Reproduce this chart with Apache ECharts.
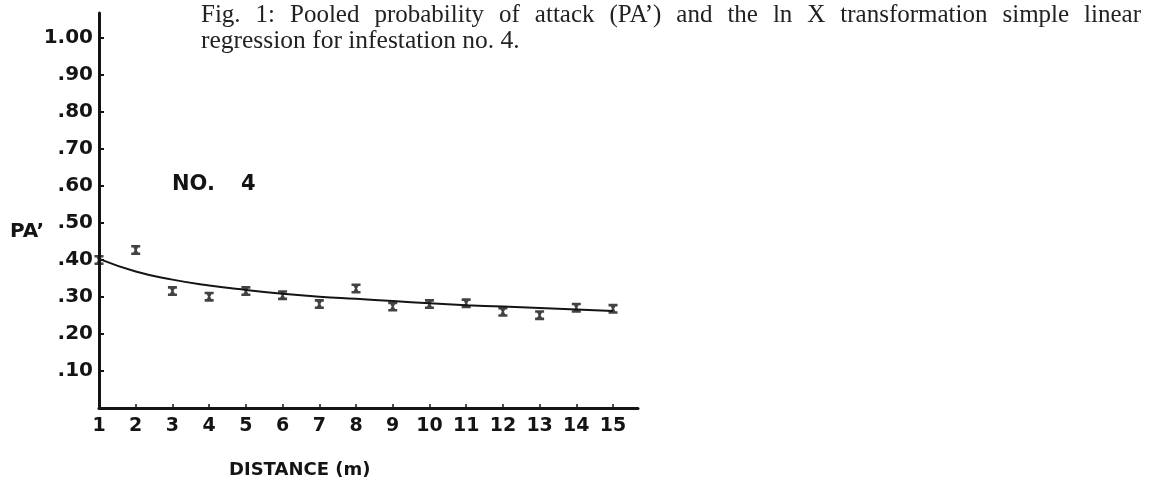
<!DOCTYPE html>
<html><head><meta charset="utf-8">
<script src="https://cdn.jsdelivr.net/npm/echarts@6/dist/echarts.min.js"></script>
<style>html,body{margin:0;padding:0;background:#fff}#c{width:1150px;height:480px}</style>
</head><body><div id="c"></div>
<script>
// ---- data ----
const distances = [1, 2, 3, 4, 5, 6, 7, 8, 9, 10, 11, 12, 13, 14, 15];
const paObserved = [0.400, 0.427, 0.316, 0.301, 0.316, 0.305, 0.281, 0.323, 0.274, 0.281, 0.283, 0.260, 0.251, 0.271, 0.268];
const paRegression = [0.403, 0.369, 0.347, 0.331, 0.319, 0.309, 0.301, 0.295, 0.289, 0.283, 0.278, 0.274, 0.270, 0.266, 0.262];
const yTickValues = [0.1, 0.2, 0.3, 0.4, 0.5, 0.6, 0.7, 0.8, 0.9, 1.0];
const yTickLabels = ['.10', '.20', '.30', '.40', '.50', '.60', '.70', '.80', '.90', '1.00'];
const captionLine1 = 'Fig. 1: Pooled probability of attack (PA\u2019) and the ln X transformation simple linear';
const captionLine2 = 'regression for infestation no. 4.';
const panelLabel = ['NO.', '4'];
const yAxisTitle = 'PA\u2019';
const xAxisTitle = 'DISTANCE (m)';

const SANS = "'DejaVu Sans', sans-serif";
const SERIF = "'Liberation Serif', 'DejaVu Serif', serif";
const INK = '#141414';

function justify(text, x0, x1, y, size) {
  const ctx = document.createElement('canvas').getContext('2d');
  ctx.font = size + 'px ' + SERIF;
  const words = text.split(' ');
  const widths = words.map(w => ctx.measureText(w).width);
  const total = widths.reduce((a, b) => a + b, 0);
  const gap = (x1 - x0 - total) / (words.length - 1);
  let x = x0;
  return words.map((w, i) => {
    const el = { type: 'text', x: x, y: y, silent: true,
      style: { text: w, fontSize: size, fontFamily: SERIF, fill: '#222', textVerticalAlign: 'middle' } };
    x += widths[i] + gap;
    return el;
  });
}

const chart = echarts.init(document.getElementById('c'), null, { renderer: 'canvas' });
const graphics = [].concat(
  justify(captionLine1, 201, 1141, 15, 25),
  [
    { type: 'text', x: 201, y: 41, silent: true,
      style: { text: captionLine2, fontSize: 25.5, fontFamily: SERIF, fill: '#222', textVerticalAlign: 'middle' } },
    { type: 'text', x: 172, y: 185, style: { text: panelLabel[0], fontSize: 21, fontWeight: 'bold', fontFamily: SANS, fill: INK, textVerticalAlign: 'middle' } },
    { type: 'text', x: 241, y: 185, style: { text: panelLabel[1], fontSize: 21, fontWeight: 'bold', fontFamily: SANS, fill: INK, textVerticalAlign: 'middle' } },
    { type: 'text', x: 10, y: 232, style: { text: yAxisTitle, fontSize: 20, fontWeight: 'bold', fontFamily: SANS, fill: INK, textVerticalAlign: 'middle' } },
    { type: 'text', x: 229, y: 470, style: { text: xAxisTitle, fontSize: 18, fontWeight: 'bold', fontFamily: SANS, fill: INK, textVerticalAlign: 'middle' } }
  ]
);

chart.setOption({
  backgroundColor: '#ffffff',
  animation: false,
  grid: { left: 99, right: 512, top: 13, bottom: 72, containLabel: false },
  xAxis: {
    type: 'value', min: 1, max: 15.68,
    axisLine: { show: true, onZero: false, lineStyle: { color: INK, width: 3 } },
    axisTick: { show: true, inside: true, length: 4, customValues: distances, lineStyle: { color: INK, width: 1.5 } },
    axisLabel: { customValues: distances, fontFamily: SANS, fontWeight: 'bold', fontSize: 19, color: INK, margin: 9 },
    splitLine: { show: false }
  },
  yAxis: {
    type: 'value', min: 0, max: 1.0676,
    axisLine: { show: true, onZero: false, lineStyle: { color: INK, width: 3 } },
    axisTick: { show: true, inside: true, length: 5, customValues: yTickValues, lineStyle: { color: INK, width: 2 } },
    axisLabel: {
      customValues: yTickValues, fontFamily: SANS, fontWeight: 'bold', fontSize: 20, color: INK, margin: 6,
      padding: [0, 0, 6, 0],
      formatter: v => yTickLabels[Math.round(v * 10) - 1]
    },
    splitLine: { show: false }
  },
  series: [
    {
      type: 'line', smooth: 0.5, symbol: 'none',
      data: distances.map((d, i) => [d, paRegression[i]]),
      lineStyle: { color: INK, width: 2 }, z: 2
    },
    {
      type: 'scatter',
      symbol: 'path://M0,0H10V2.6H7.6L6.2,5L7.6,7.4H10V10H0V7.4H2.4L3.8,5L2.4,2.6H0Z',
      symbolSize: [9, 10],
      data: distances.map((d, i) => [d, paObserved[i]]),
      itemStyle: { color: INK }, z: 3
    }
  ],
  graphic: graphics
});
</script>
</body></html>
